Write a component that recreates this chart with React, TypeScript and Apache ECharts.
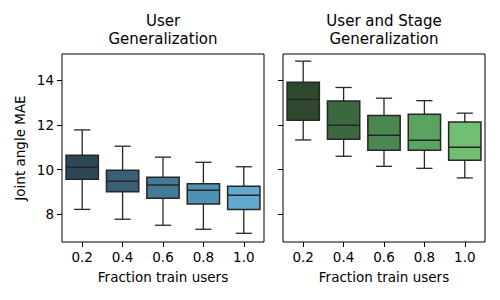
import React, { useEffect, useRef } from "react";
import * as echarts from "echarts";

const fractions = ["0.2", "0.4", "0.6", "0.8", "1.0"];
const yTicks = [8, 10, 12, 14];

const userMin = [8.22, 7.78, 7.51, 7.33, 7.15];
const userQ1 = [9.57, 9.01, 8.72, 8.46, 8.22];
const userMedian = [10.11, 9.48, 9.31, 9.08, 8.85];
const userQ3 = [10.65, 9.97, 9.66, 9.37, 9.26];
const userMax = [11.78, 11.05, 10.56, 10.33, 10.13];

const stageMin = [11.33, 10.6, 10.15, 10.06, 9.63];
const stageQ1 = [12.21, 11.36, 10.87, 10.87, 10.42];
const stageMedian = [13.14, 11.99, 11.54, 11.32, 11.0];
const stageQ3 = [13.92, 13.07, 12.42, 12.48, 12.13];
const stageMax = [14.86, 13.68, 13.2, 13.09, 12.53];

const userColors = ["#2c4756", "#385f75", "#437a95", "#4e91b3", "#62a8cf"];
const stageColors = ["#2e482e", "#3c683f", "#4b8751", "#5ca362", "#70bf72"];

const leftTitle = ["User", "Generalization"];
const rightTitle = ["User and Stage", "Generalization"];

const FONT = "DejaVu Sans";
const EDGE = "#262626";

function buildData(mn: number[], q1: number[], md: number[], q3: number[], mx: number[]) {
  return fractions.map((_, i) => [i, mn[i], q1[i], md[i], q3[i], mx[i]]);
}

function makeRender(colors: string[]) {
  return (params: any, api: any) => {
    const i = api.value(0);
    const pMin = api.coord([i, api.value(1)]);
    const pQ1 = api.coord([i, api.value(2)]);
    const pMed = api.coord([i, api.value(3)]);
    const pQ3 = api.coord([i, api.value(4)]);
    const pMax = api.coord([i, api.value(5)]);
    const band = api.size([1, 0])[0];
    const bw = band * 0.8;
    const cw = bw / 2;
    const cx = pMed[0];
    const ls = { stroke: EDGE, lineWidth: 1.3 };
    return {
      type: "group",
      children: [
        { type: "line", shape: { x1: cx, y1: pMin[1], x2: cx, y2: pQ1[1] }, style: ls },
        { type: "line", shape: { x1: cx, y1: pQ3[1], x2: cx, y2: pMax[1] }, style: ls },
        { type: "line", shape: { x1: cx - cw / 2, y1: pMin[1], x2: cx + cw / 2, y2: pMin[1] }, style: ls },
        { type: "line", shape: { x1: cx - cw / 2, y1: pMax[1], x2: cx + cw / 2, y2: pMax[1] }, style: ls },
        {
          type: "rect",
          shape: { x: cx - bw / 2, y: pQ3[1], width: bw, height: pQ1[1] - pQ3[1] },
          style: { fill: colors[i], stroke: EDGE, lineWidth: 1.5 },
        },
        { type: "line", shape: { x1: cx - bw / 2, y1: pMed[1], x2: cx + bw / 2, y2: pMed[1] }, style: { stroke: EDGE, lineWidth: 1.5 } },
      ],
    };
  };
}

function titleText(text: string, x: number, y: number) {
  return {
    type: "text",
    x,
    y,
    style: { text, fontFamily: FONT, fontSize: 15, lineHeight: 15, fill: "#000", textAlign: "center", textVerticalAlign: "middle" },
  };
}

export default function App() {
  const ref = useRef<HTMLDivElement>(null);
  useEffect(() => {
    if (!ref.current) return;
    const chart = echarts.init(ref.current, null, { renderer: "svg" });
    const xAxisBase = (gridIndex: number) => ({
      type: "category",
      gridIndex,
      data: fractions,
      name: "Fraction train users",
      nameLocation: "middle",
      nameGap: 28,
      nameTextStyle: { fontFamily: FONT, fontSize: 13.5, color: "#000" },
      axisLine: { show: false },
      axisTick: { show: true, alignWithLabel: true, length: 5, lineStyle: { color: "#000", width: 1 } },
      axisLabel: { fontFamily: FONT, fontSize: 13.5, color: "#000", margin: 8 },
      splitLine: { show: false },
    });
    const yAxisBase = (gridIndex: number, showLabels: boolean) => ({
      type: "value",
      gridIndex,
      min: 6.76,
      max: 15.18,
      name: showLabels ? "Joint angle MAE" : "",
      nameLocation: "middle",
      nameGap: 35,
      nameTextStyle: { fontFamily: FONT, fontSize: 13.5, color: "#000" },
      axisLine: { show: false },
      axisTick: { show: true, length: 5, lineStyle: { color: "#000", width: 1 }, customValues: yTicks },
      axisLabel: { show: showLabels, fontFamily: FONT, fontSize: 13.5, color: "#000", margin: 8, customValues: yTicks },
      splitLine: { show: false },
    });
    chart.setOption({
      animation: false,
      backgroundColor: "#fff",
      grid: [
        { left: 62, right: 236, top: 54, bottom: 58, show: true, borderColor: "#000", borderWidth: 1, backgroundColor: "transparent" },
        { left: 283, right: 15, top: 54, bottom: 58, show: true, borderColor: "#000", borderWidth: 1, backgroundColor: "transparent" },
      ],
      xAxis: [xAxisBase(0), xAxisBase(1)],
      yAxis: [yAxisBase(0, true), yAxisBase(1, false)],
      graphic: [
        titleText(leftTitle[0], 163, 21.3),
        titleText(leftTitle[1], 163, 39),
        titleText(rightTitle[0], 384, 21.3),
        titleText(rightTitle[1], 384, 39),
      ],
      series: [
        {
          type: "custom",
          xAxisIndex: 0,
          yAxisIndex: 0,
          renderItem: makeRender(userColors),
          encode: { x: 0, y: [1, 2, 3, 4, 5] },
          data: buildData(userMin, userQ1, userMedian, userQ3, userMax),
        },
        {
          type: "custom",
          xAxisIndex: 1,
          yAxisIndex: 1,
          renderItem: makeRender(stageColors),
          encode: { x: 0, y: [1, 2, 3, 4, 5] },
          data: buildData(stageMin, stageQ1, stageMedian, stageQ3, stageMax),
        },
      ],
    });
    return () => chart.dispose();
  }, []);
  return <div ref={ref} style={{ position: "fixed", left: 0, top: 0, width: 500, height: 300 }} />;
}
